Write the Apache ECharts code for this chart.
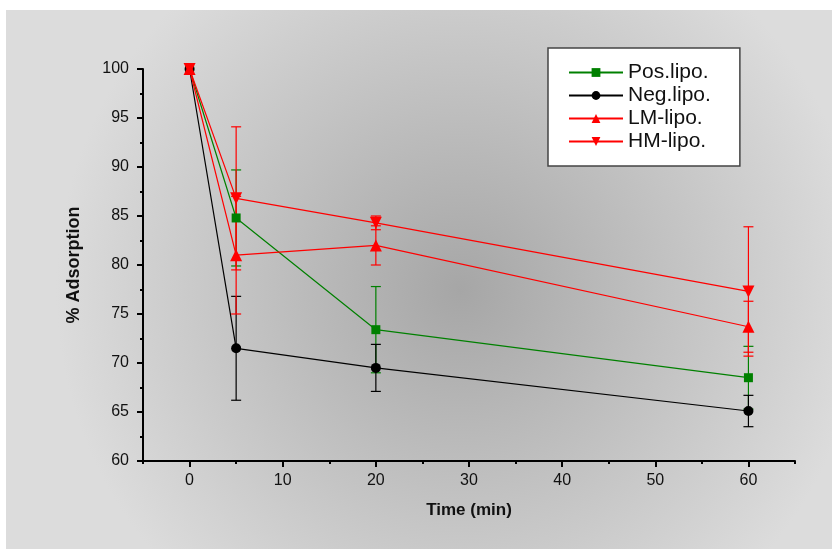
<!DOCTYPE html>
<html>
<head>
<meta charset="utf-8">
<script src="https://cdn.jsdelivr.net/npm/echarts@6/dist/echarts.min.js"></script>
<style>
  html, body { margin: 0; padding: 0; background: #ffffff; }
  #chart { width: 832px; height: 549px; }
</style>
</head>
<body>
<div id="chart"></div>
<script>
let chartDom = document.getElementById('chart');
let myChart = echarts.init(chartDom);
let option;

// time points (min)
const times = [0, 5, 20, 60];
const xTickLabels = [0, 10, 20, 30, 40, 50, 60];

const seriesNames = ['Pos.lipo.', 'Neg.lipo.', 'LM-lipo.', 'HM-lipo.'];

// % adsorption, means and error (+/-)
const posMean = [100, 84.8, 73.4, 68.5];
const posErr = [0, 4.9, 4.4, 3.2];
const negMean = [100, 71.5, 69.5, 65.1];
const negErr = [0, 5.3, 2.4, 1.6];
const lmMean = [100, 81.0, 82.0, 73.7];
const lmErr = [0, 6.0, 2.0, 2.6];
const hmMean = [100, 86.8, 84.3, 77.3];
const hmErr = [0, 7.3, 0.7, 6.6];

const colors = ['#008000', '#000000', '#ff0000', '#ff0000'];

function pairs(mean) {
  return times.map(function (t, i) { return [t, mean[i]]; });
}

function errData(mean, err) {
  return times.map(function (t, i) { return [t, mean[i] - err[i], mean[i] + err[i]]; });
}

function errorSeries(name, mean, err, color) {
  return {
    name: name + ' error',
    type: 'custom',
    xAxisIndex: 0,
    yAxisIndex: 0,
    silent: true,
    z: 1,
    renderItem: function (params, api) {
      if (api.value(2) - api.value(1) <= 0) return;
      let x = api.value(0);
      let lo = api.coord([x, api.value(1)]);
      let hi = api.coord([x, api.value(2)]);
      let w = 5;
      let style = { stroke: color, lineWidth: 1.2 };
      return {
        type: 'group',
        children: [
          { type: 'line', shape: { x1: lo[0], y1: lo[1], x2: hi[0], y2: hi[1] }, style: style },
          { type: 'line', shape: { x1: lo[0] - w, y1: lo[1], x2: lo[0] + w, y2: lo[1] }, style: style },
          { type: 'line', shape: { x1: hi[0] - w, y1: hi[1], x2: hi[0] + w, y2: hi[1] }, style: style }
        ]
      };
    },
    data: errData(mean, err)
  };
}

function lineSeries(name, mean, color, symbol, size, rotate) {
  return {
    name: name,
    type: 'line',
    xAxisIndex: 0,
    yAxisIndex: 0,
    clip: false,
    z: 3,
    symbol: symbol,
    symbolSize: size,
    symbolRotate: rotate || 0,
    lineStyle: { color: color, width: 1.2 },
    itemStyle: { color: color },
    data: pairs(mean)
  };
}

option = {
  animation: false,
  backgroundColor: '#ffffff',
  textStyle: { fontFamily: 'Liberation Sans, Arial, sans-serif' },
  graphic: [
    {
      type: 'rect',
      z: -10,
      silent: true,
      shape: { x: 6, y: 10, width: 826, height: 539 },
      style: {
        fill: {
          type: 'radial', x: 0.55, y: 0.52, r: 0.75,
          colorStops: [
            { offset: 0, color: '#a6a6a6' },
            { offset: 1, color: '#dcdcdc' }
          ]
        }
      }
    }
  ],
  legend: {
    left: 548,
    top: 48,
    orient: 'vertical',
    data: seriesNames,
    backgroundColor: '#ffffff',
    borderColor: '#444444',
    borderWidth: 1.5,
    borderRadius: 0,
    padding: [14, 29, 14, 20],
    itemGap: 2,
    itemWidth: 54,
    itemHeight: 11,
    textStyle: { fontSize: 21, lineHeight: 21, color: '#111111', fontFamily: 'Liberation Sans, Arial, sans-serif' }
  },
  grid: {
    left: 143,
    right: 37,
    top: 69,
    bottom: 88
  },
  xAxis: [
    {
      type: 'value',
      min: -5,
      max: 65,
      interval: 5,
      name: 'Time (min)',
      nameLocation: 'middle',
      nameGap: 41,
      nameTextStyle: { fontSize: 17, fontWeight: 'bold', color: '#111111' },
      splitLine: { show: false },
      axisLine: { onZero: false, lineStyle: { color: '#000000', width: 2 } },
      axisTick: { show: true, length: 3, lineStyle: { color: '#000000', width: 2 } },
      axisLabel: {
        customValues: xTickLabels,
        fontSize: 16,
        color: '#111111',
        margin: 12
      }
    },
    {
      type: 'value',
      min: -5,
      max: 65,
      position: 'bottom',
      offset: 0,
      splitLine: { show: false },
      axisLine: { show: false, onZero: false },
      axisLabel: { show: false },
      axisTick: {
        show: true,
        customValues: xTickLabels,
        length: 6,
        lineStyle: { color: '#000000', width: 2 }
      }
    }
  ],
  yAxis: {
    type: 'value',
    min: 60,
    max: 100,
    interval: 5,
    name: '% Adsorption',
    nameLocation: 'middle',
    nameGap: 60,
    nameTextStyle: { fontSize: 18, fontWeight: 'bold', color: '#111111' },
    splitLine: { show: false },
    axisLine: { show: true, onZero: false, lineStyle: { color: '#000000', width: 2 } },
    axisTick: { show: true, length: 6, lineStyle: { color: '#000000', width: 2 } },
    minorTick: { show: true, splitNumber: 2, length: 3, lineStyle: { color: '#000000', width: 2 } },
    axisLabel: { fontSize: 16, color: '#111111', margin: 14 }
  },
  series: [
    errorSeries('Pos.lipo.', posMean, posErr, colors[0]),
    errorSeries('Neg.lipo.', negMean, negErr, colors[1]),
    errorSeries('LM-lipo.', lmMean, lmErr, colors[2]),
    errorSeries('HM-lipo.', hmMean, hmErr, colors[3]),
    lineSeries('Pos.lipo.', posMean, colors[0], 'rect', 9),
    lineSeries('Neg.lipo.', negMean, colors[1], 'circle', 10),
    lineSeries('LM-lipo.', lmMean, colors[2], 'triangle', 12),
    lineSeries('HM-lipo.', hmMean, colors[3], 'triangle', 12, 180)
  ]
};

option && myChart.setOption(option);
</script>
</body>
</html>
